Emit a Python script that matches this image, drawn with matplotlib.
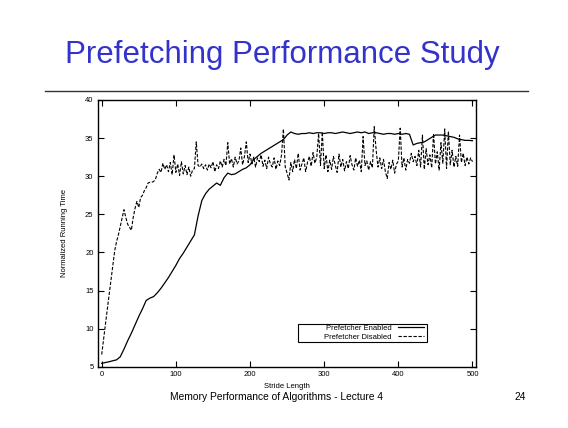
import numpy as np
import matplotlib
matplotlib.use("Agg")
import matplotlib.pyplot as plt
from matplotlib.patches import Rectangle

plt.rcParams['font.family'] = ['Liberation Sans', 'DejaVu Sans']

# stride positions
stride_disabled = np.arange(0, 501, 2.5)
stride_enabled = np.arange(0, 501, 5)

# normalized running time, prefetcher disabled (step 2.5)
time_disabled = [
    6.6, 8.6, 10.5, 12.5, 14.4, 16.4, 18.3, 20.2, 21.4, 22.3,
    23.4, 24.5, 25.6, 24.6, 23.7, 23.3, 22.9, 24.6, 25.8, 26.7,
    25.9, 27.2, 27.5, 28.1, 28.5, 29.1, 29.2, 29.2, 29.3, 29.6,
    30.4, 30.9, 30.5, 31.7, 30.9, 31.5, 30.6, 31.8, 30.2, 32.8,
    30.5, 31.6, 30.1, 31.9, 30.3, 31.4, 30.2, 31.2, 30.0, 30.8,
    31.0, 34.5, 31.4, 31.2, 31.6, 31.0, 31.5, 30.8, 31.6, 31.1,
    31.9, 30.6, 31.5, 31.0, 32.0, 31.2, 32.2, 31.4, 34.4, 31.6,
    32.3, 31.2, 32.5, 31.6, 32.0, 33.7, 31.5, 32.6, 34.5, 31.8,
    32.9, 31.6, 32.5, 31.2, 32.4, 31.9, 32.8, 31.3, 32.1, 31.0,
    32.5, 31.6, 31.2, 32.4, 30.9, 32.0, 31.4, 32.8, 36.2, 31.2,
    30.4, 29.5, 31.8, 30.6, 32.2, 31.0, 33.0, 30.8, 31.6, 32.4,
    30.6, 31.8, 32.6, 31.3, 33.1, 31.7, 32.5, 35.6, 31.4, 35.8,
    31.0, 32.8, 30.6, 32.1, 30.9, 32.6, 31.4, 30.5, 32.9, 31.2,
    32.2, 30.7, 31.9, 31.0, 32.7, 31.5, 30.8, 32.4, 31.3, 32.1,
    30.6, 35.2, 31.4, 32.0, 30.8, 31.9, 31.1, 36.5, 33.5, 31.2,
    32.4, 31.0, 32.2, 30.6, 29.7, 31.8, 30.9, 32.1, 30.4, 31.6,
    32.0, 36.3, 31.2, 32.4, 30.8, 32.2, 31.7, 33.0, 31.9, 32.6,
    31.4, 33.4, 31.2, 35.4, 30.9, 33.6, 31.5, 32.8, 31.1, 35.6,
    31.6, 33.2, 30.8, 34.4, 31.7, 36.2, 31.0, 35.9, 31.5, 33.4,
    31.2, 32.6, 31.3, 35.4, 31.8, 33.0, 31.4, 32.5, 31.6, 32.4,
    31.9,
]

# normalized running time, prefetcher enabled (step 5)
time_enabled = [
    5.45, 5.55, 5.65, 5.78, 5.9, 6.3, 7.3, 8.4, 9.4, 10.5,
    11.6, 12.6, 13.7, 14.0, 14.2, 14.7, 15.3, 16.0, 16.7, 17.5,
    18.3, 19.2, 19.9, 20.7, 21.5, 22.3, 24.8, 26.8, 27.7, 28.3,
    28.7, 29.1, 28.8, 29.8, 30.4, 30.2, 30.3, 30.6, 30.9, 31.1,
    31.5, 32.2, 32.6, 33.0, 33.3, 33.6, 33.9, 34.2, 34.5, 34.8,
    35.4, 35.8, 35.6, 35.5, 35.6, 35.6, 35.7, 35.6, 35.7, 35.7,
    35.6, 35.7, 35.7, 35.6, 35.7, 35.8, 35.7, 35.6, 35.7, 35.8,
    35.7, 35.8, 35.6, 35.7, 35.7, 35.6, 35.5, 35.6, 35.6, 35.5,
    35.6, 35.5, 35.6, 35.5, 34.1, 34.3, 34.4, 34.5, 34.8, 35.1,
    35.4, 35.4, 35.4, 35.3, 35.2, 35.1, 34.9, 34.8, 34.7, 34.7,
    34.65,
]

fig = plt.figure(figsize=(5.68, 4.28), dpi=100)

# slide title and rule
fig.text(0.497, 0.852, 'Prefetching Performance Study', ha='center', va='baseline',
         fontsize=22.5, color='#3333cc')
fig.add_artist(plt.Line2D([0.079, 0.93], [0.787, 0.787], color='#333333', lw=1.0))

# footer
fig.text(0.299, 0.066, 'Memory Performance of Algorithms - Lecture 4', ha='left',
         va='baseline', fontsize=7.4)
fig.text(0.925, 0.066, '24', ha='right', va='baseline', fontsize=7.4)

ax = fig.add_axes([0.172, 0.1432, 0.666, 0.6232])
ax.plot(stride_enabled, time_enabled, color='black', lw=0.9, label='Prefetcher Enabled')
ax.plot(stride_disabled, time_disabled, color='black', lw=0.8, ls=(0, (3, 1.5)),
        label='Prefetcher Disabled')

ax.set_xlim(-5.4, 504.7)
ax.set_ylim(5, 40)
ax.set_xticks(range(0, 501, 100))
ax.set_yticks(range(5, 41, 5))
ax.tick_params(direction='in', length=4, width=0.8, labelsize=5.5,
               top=True, right=True, pad=3)
for s in ax.spines.values():
    s.set_linewidth(1.0)

ax.set_xlabel('Stride Length', fontsize=5.5, labelpad=3.5)
ax.set_ylabel('Normalized Running Time', fontsize=5.5, labelpad=12)

# gnuplot-style key: text right-aligned, sample to the right, wide box
leg = ax.legend(loc='lower right', bbox_to_anchor=(0.862, 0.097),
                markerfirst=False, fontsize=5.5, frameon=False,
                borderpad=0.0, labelspacing=0.25, handlelength=3.4,
                handletextpad=0.8, borderaxespad=0)
for t in leg.get_texts():
    t.set_ha('right')
ax.add_patch(Rectangle((0.529, 0.094), 0.341, 0.066, transform=ax.transAxes,
                       fill=False, edgecolor='black', lw=0.8))

fig.savefig('out.png', dpi=100)
